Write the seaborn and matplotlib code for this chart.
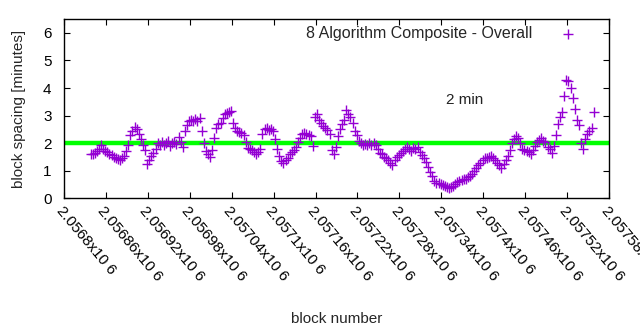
import numpy as np
import pandas as pd
import matplotlib
matplotlib.use("Agg")
import matplotlib.pyplot as plt
import seaborn as sns

# Block spacing (minutes) for every 3rd block, from block 2056838 onwards
first_block = 2056838
block_step = 3
spacing_minutes = [
    1.60, 1.62, 1.66, 1.72, 1.78, 1.95, 1.80, 1.72, 1.68, 1.62,
    1.58, 1.52, 1.48, 1.42, 1.38, 1.45, 1.55, 1.72, 1.95, 2.30,
    2.45, 2.58, 2.50, 2.32, 2.15, 1.95, 1.75, 1.25, 1.40, 1.55,
    1.65, 1.80, 2.00, 1.95, 2.05, 1.95, 2.00, 2.08, 1.90, 2.02,
    2.05, 1.98, 2.22, 2.05, 1.85, 2.45, 2.65, 2.80, 2.85, 2.82,
    2.88, 2.80, 2.90, 2.45, 2.00, 1.72, 1.62, 1.52, 1.75, 2.20,
    2.55, 2.68, 2.75, 2.90, 3.05, 3.10, 3.15, 3.18, 2.75, 2.55,
    2.45, 2.42, 2.38, 2.30, 2.05, 1.82, 1.78, 1.75, 1.68, 1.62,
    1.70, 1.80, 2.35, 2.52, 2.55, 2.48, 2.50, 2.45, 2.15, 1.80,
    1.55, 1.35, 1.28, 1.38, 1.48, 1.60, 1.68, 1.75, 1.88, 2.05,
    2.20, 2.32, 2.38, 2.35, 2.30, 2.25, 1.90, 2.95, 3.05, 2.85,
    2.72, 2.62, 2.55, 2.48, 2.35, 1.75, 1.62, 1.85, 2.25, 2.50,
    2.70, 2.85, 3.20, 3.05, 2.95, 2.75, 2.45, 2.30, 2.10, 2.00,
    1.92, 1.98, 1.95, 2.00, 1.92, 2.02, 1.95, 1.80, 1.65, 1.60,
    1.52, 1.48, 1.40, 1.30, 1.22, 1.40, 1.50, 1.58, 1.65, 1.72,
    1.80, 1.85, 1.78, 1.72, 1.82, 1.78, 1.85, 1.70, 1.58, 1.45,
    1.32, 1.15, 0.95, 0.80, 0.62, 0.56, 0.55, 0.52, 0.50, 0.45,
    0.42, 0.38, 0.42, 0.45, 0.52, 0.58, 0.62, 0.68, 0.70, 0.72,
    0.78, 0.80, 0.88, 1.00, 1.10, 1.22, 1.30, 1.40, 1.45, 1.48,
    1.50, 1.55, 1.45, 1.38, 1.28, 1.20, 1.12, 1.25, 1.40, 1.55,
    1.75, 2.00, 2.15, 2.25, 2.18, 2.00, 1.80, 1.75, 1.72, 1.68,
    1.62, 1.75, 1.90, 2.05, 2.12, 2.18, 2.10, 2.05, 1.88, 1.78,
    1.65, 1.90, 2.30, 2.70, 2.95, 3.15, 3.70, 4.30, 4.25, 4.00,
    3.65, 3.25, 2.85, 2.65, 2.00, 1.80, 2.15, 2.35, 2.45, 2.55,
    3.15,
]
block_numbers = first_block + block_step * np.arange(len(spacing_minutes))

target_minutes = 2.0
series_label = "8 Algorithm Composite - Overall"
target_label = "2 min"

x_ticks = np.arange(2056800, 2057581, 60)
x_tick_labels = [f"{t / 1e6:.6g}x10 6" for t in x_ticks]
y_ticks = [0, 1, 2, 3, 4, 5, 6]

df = pd.DataFrame({"block": block_numbers, "spacing": spacing_minutes})

sns.set_style("ticks")
plt.rcParams["font.family"] = ["Liberation Sans", "DejaVu Sans"]

fig = plt.figure(figsize=(6.4, 3.3), dpi=100)
ax = fig.add_axes([0.1, 0.3985, 0.8516, 0.5439])

ax.axhline(target_minutes, color="#00ff00", lw=3.2, zorder=1)

sns.scatterplot(data=df, x="block", y="spacing", marker="+", s=42,
                color="#9400d3", linewidth=1.0, ax=ax, zorder=2,
                label=series_label)

ax.text(2057373, 3.55, target_label, ha="center", va="center",
        fontsize=11, color="#222222")

ax.set_xlim(2056800, 2057580)
ax.set_ylim(0, 6.5)
ax.set_xticks(x_ticks)
ax.set_xticklabels(x_tick_labels, rotation=-50, ha="left", va="top",
                   rotation_mode="anchor", fontsize=11)
ax.set_yticks(y_ticks)
ax.tick_params(direction="in", length=4.5, width=0.8, top=True, right=True,
               labelsize=11, colors="black")
ax.tick_params(axis="x", pad=4)
ax.tick_params(axis="y", pad=9)
for side in ax.spines.values():
    side.set_linewidth(1.0)
    side.set_color("black")

ax.set_xlabel("block number", fontsize=11)
ax.set_ylabel("block spacing [minutes]", fontsize=11)
ax.xaxis.set_label_coords(0.5, -0.63)
ax.yaxis.set_label_coords(-0.07, 0.5)

ax.legend(loc="upper right", frameon=False, markerfirst=False,
          fontsize=11.5, handletextpad=1.25, borderaxespad=0.3,
          bbox_to_anchor=(0.975, 1.022))

fig.savefig("out.png", dpi=100)
